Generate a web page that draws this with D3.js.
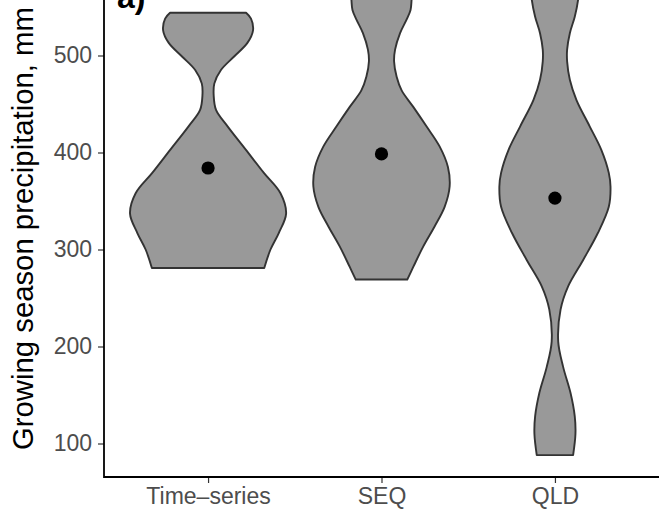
<!DOCTYPE html>
<html>
<head>
<meta charset="utf-8">
<script src="https://cdn.jsdelivr.net/npm/d3@7/dist/d3.min.js"></script>
<style>
  html, body { margin: 0; padding: 0; background: #ffffff; }
  svg { display: block; font-family: "Liberation Sans", Arial, Helvetica, sans-serif; }
</style>
</head>
<body>
<svg id="chart" width="659" height="512"></svg>
<script>
// ---- data ----
const categories = ["Time\u2013series", "SEQ", "QLD"];
const yTicks = [100, 200, 300, 400, 500];
const means = [384, 398.5, 353];

// violin outlines: precipitation value and relative density (widest = 1)
const tsValues  = [544, 538, 526, 513, 499, 485, 471, 459, 444, 427, 403, 379, 358, 337, 317, 300, 281];
const tsDensity = [0.487, 0.55, 0.576, 0.504, 0.334, 0.165, 0.08, 0.072, 0.102, 0.25, 0.483, 0.715, 0.928, 1.0, 0.906, 0.80, 0.72];

const seqValues  = [580, 557, 547, 537, 523, 506, 494, 478, 464, 447, 427, 406, 385, 365, 344, 324, 303, 282, 269];
const seqDensity = [0.40, 0.385, 0.372, 0.321, 0.238, 0.174, 0.161, 0.194, 0.258, 0.407, 0.576, 0.746, 0.851, 0.873, 0.809, 0.682, 0.534, 0.407, 0.33];

const qldValues  = [575, 557, 540, 523, 506, 494, 475, 454, 427, 403, 379, 365, 344, 317, 289, 262, 238, 205, 179, 152, 128, 110, 88];
const qldDensity = [0.31, 0.296, 0.254, 0.191, 0.156, 0.156, 0.191, 0.276, 0.445, 0.593, 0.69, 0.712, 0.69, 0.55, 0.36, 0.169, 0.072, 0.042, 0.105, 0.2, 0.254, 0.263, 0.233];

const violinValues = [tsValues, seqValues, qldValues];
const violinDensity = [tsDensity, seqDensity, qldDensity];

// ---- layout ----
const svg = d3.select("#chart");
const panel = { left: 104, right: 659, top: 0, bottom: 477 };

const x = d3.scalePoint().domain(categories).range([panel.left, panel.right]).padding(0.6);
const y = d3.scaleLinear().domain([100, 500]).range([443.5, 55.5]);
const halfW = d3.scaleLinear().domain([0, 1]).range([0, x.step() * 0.45]);

svg.append("defs").append("clipPath").attr("id", "panelClip")
  .append("rect")
  .attr("x", panel.left).attr("y", panel.top)
  .attr("width", panel.right - panel.left).attr("height", panel.bottom - panel.top);

const plot = svg.append("g").attr("clip-path", "url(#panelClip)");

categories.forEach((cat, i) => {
  const cx = x(cat);
  const pts = violinValues[i].map((v, j) => ({ v: v, d: violinDensity[i][j] }));
  const area = d3.area()
    .y(d => y(d.v))
    .x0(d => cx - halfW(d.d))
    .x1(d => cx + halfW(d.d))
    .curve(d3.curveCatmullRom.alpha(0.5));
  plot.append("path")
    .attr("d", area(pts))
    .attr("fill", "#999999")
    .attr("stroke", "#333333")
    .attr("stroke-width", 1.9)
    .attr("stroke-linejoin", "round");
  plot.append("circle")
    .attr("cx", cx)
    .attr("cy", y(means[i]))
    .attr("r", 6.6)
    .attr("fill", "#000000");
});

// ---- axes ----
const yAxis = d3.axisLeft(y).tickValues(yTicks).tickSize(6).tickPadding(6);
const gy = svg.append("g").attr("transform", `translate(${panel.left},0)`).call(yAxis);
gy.select(".domain").remove();
gy.selectAll(".tick line").attr("stroke", "#333333").attr("stroke-width", 1.2);
gy.selectAll(".tick text").attr("fill", "#4D4D4D").attr("font-size", 23)
  .attr("font-family", "Liberation Sans, Arial, sans-serif");

const xAxis = d3.axisBottom(x).tickSize(6).tickPadding(5);
const gx = svg.append("g").attr("transform", `translate(0,${panel.bottom})`).call(xAxis);
gx.select(".domain").remove();
gx.selectAll(".tick line").attr("stroke", "#333333").attr("stroke-width", 1.2);
gx.selectAll(".tick text").attr("fill", "#4D4D4D").attr("font-size", 23)
  .attr("font-family", "Liberation Sans, Arial, sans-serif");

// axis lines
svg.append("path")
  .attr("d", `M${panel.left},${panel.top - 5}V${panel.bottom}H${panel.right + 5}`)
  .attr("fill", "none").attr("stroke", "#000000").attr("stroke-width", 1.8);

// axis title
svg.append("text")
  .attr("transform", `translate(33,450) rotate(-90)`)
  .attr("text-anchor", "start")
  .attr("font-size", 29.3)
  .attr("fill", "#000000")
  .text("Growing season precipitation, mm");

// panel tag (partly cut off at the top edge, as in the reference)
svg.append("text")
  .attr("x", 117).attr("y", 8)
  .attr("font-size", 32)
  .attr("font-weight", "bold")
  .attr("fill", "#000000")
  .text("a)");
</script>
</body>
</html>
